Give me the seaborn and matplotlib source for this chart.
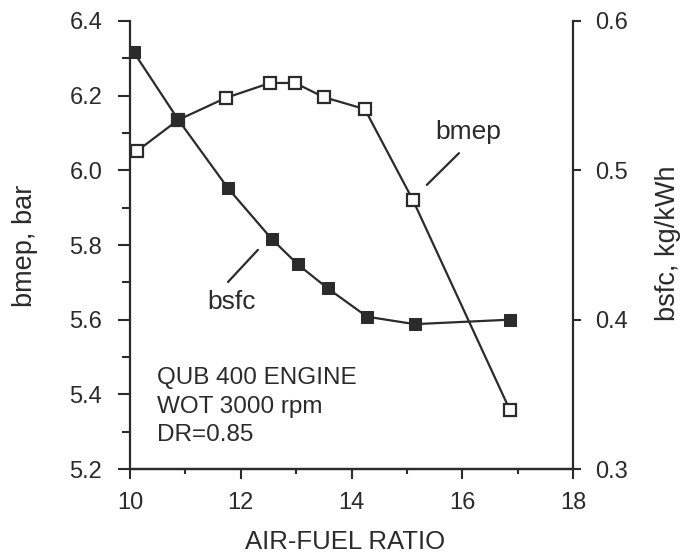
import numpy as np
import pandas as pd
import seaborn as sns
import matplotlib.pyplot as plt
from matplotlib.ticker import MultipleLocator

# data
afr_bmep = [10.13, 10.87, 11.73, 12.53, 12.98, 13.50, 14.24, 15.11, 16.86]
bmep = [6.052, 6.135, 6.194, 6.234, 6.234, 6.196, 6.164, 5.920, 5.358]

afr_bsfc = [10.07, 10.87, 11.77, 12.56, 13.03, 13.57, 14.28, 15.14, 16.86]
bsfc = [0.579, 0.534, 0.488, 0.454, 0.437, 0.421, 0.402, 0.397, 0.400]

note_lines = ['QUB 400 ENGINE', 'WOT 3000 rpm', 'DR=0.85']

sns.set_style('ticks')
plt.rcParams['font.family'] = ['Liberation Sans', 'DejaVu Sans']
plt.rcParams['font.size'] = 16

ink = '#2b2b2b'

fig = plt.figure(figsize=(6.82, 5.54), dpi=100)
ax = fig.add_axes([0.1906, 0.1534, 0.6496, 0.8087])
ax2 = ax.twinx()

df_bmep = pd.DataFrame({'afr': afr_bmep, 'bmep': bmep})
df_bsfc = pd.DataFrame({'afr': afr_bsfc, 'bsfc': bsfc})

sns.lineplot(data=df_bmep, x='afr', y='bmep', ax=ax, color=ink, lw=1.6,
             marker='s', markersize=9, markerfacecolor='white',
             markeredgecolor=ink, markeredgewidth=1.6)
sns.lineplot(data=df_bsfc, x='afr', y='bsfc', ax=ax2, color=ink, lw=1.6,
             marker='s', markersize=9, markerfacecolor=ink,
             markeredgecolor=ink)

# axes limits and ticks
ax.set_xlim(10, 18)
ax.set_ylim(5.2, 6.4)
ax2.set_ylim(0.3, 0.6)
ax.set_xticks([10, 12, 14, 16, 18])
ax.xaxis.set_minor_locator(MultipleLocator(1))
ax.set_yticks(np.arange(5.2, 6.41, 0.2))
ax.yaxis.set_minor_locator(MultipleLocator(0.1))
ax.set_yticklabels(['5.2', '5.4', '5.6', '5.8', '6.0', '6.2', '6.4'])
ax2.set_yticks([0.3, 0.4, 0.5, 0.6])
ax2.set_yticklabels(['0.3', '0.4', '0.5', '0.6'])

for a in (ax, ax2):
    a.spines['top'].set_visible(False)
    for s in a.spines.values():
        s.set_linewidth(1.6)
        s.set_color(ink)
ax.spines['right'].set_visible(False)
ax2.spines['left'].set_visible(False)

ax.tick_params(axis='y', which='major', length=9, width=1.5, color=ink,
               labelsize=17, labelcolor=ink, pad=11)
ax.tick_params(axis='y', which='minor', length=5.5, width=1.5, color=ink)
ax.tick_params(axis='x', which='major', length=7.5, width=1.5, color=ink,
               labelsize=17, labelcolor=ink, pad=9)
ax.tick_params(axis='x', which='minor', length=3.5, width=1.5, color=ink)
ax2.tick_params(axis='y', which='major', length=6, width=1.5, color=ink,
                labelsize=17, labelcolor=ink, pad=10)

ax.set_xlabel('AIR-FUEL RATIO', fontsize=18.5, color=ink)
ax.xaxis.set_label_coords(0.4865, -0.136)
ax.set_ylabel('bmep, bar', fontsize=19.5, color=ink)
ax.yaxis.set_label_coords(-0.2077, 0.498)
ax2.set_ylabel('bsfc, kg/kWh', fontsize=19.5, color=ink)
ax2.yaxis.set_label_coords(1.185, 0.503)

# curve labels with leader lines
ax.text(16.10, 6.103, 'bmep', ha='center', va='center', fontsize=19, color=ink)
ax.annotate('', xy=(15.36, 5.961), xytext=(15.94, 6.046),
            arrowprops=dict(arrowstyle='-', color=ink, lw=1.6,
                            shrinkA=0, shrinkB=0))
ax.text(11.84, 5.647, 'bsfc', ha='center', va='center', fontsize=19, color=ink)
ax.annotate('', xy=(11.77, 5.701), xytext=(12.31, 5.787),
            arrowprops=dict(arrowstyle='-', color=ink, lw=1.6,
                            shrinkA=0, shrinkB=0))

ax.text(10.49, 5.473, '\n'.join(note_lines), ha='left', va='top',
        fontsize=17.5, color=ink, linespacing=1.39)

plt.savefig('out.png', dpi=100)
